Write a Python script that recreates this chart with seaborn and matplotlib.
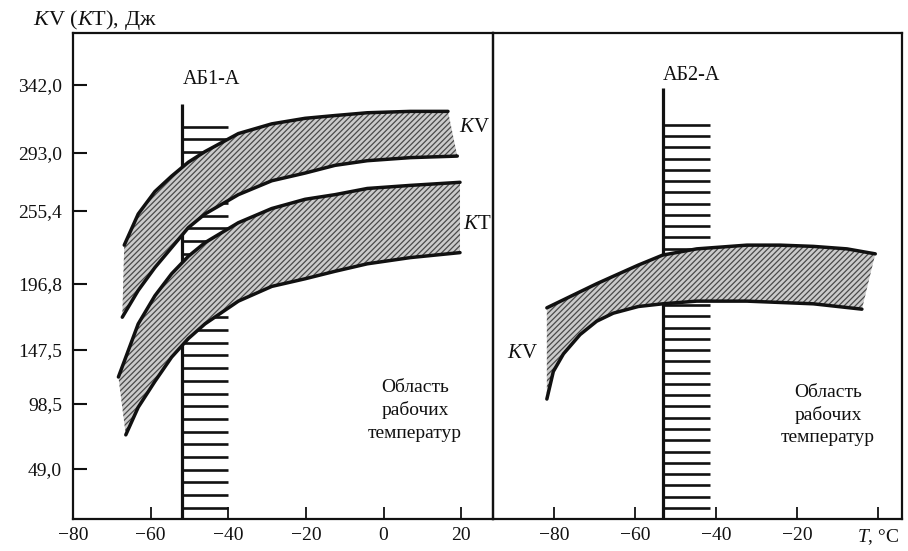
import numpy as np
import pandas as pd
import matplotlib
matplotlib.use("Agg")
import matplotlib.pyplot as plt
import seaborn as sns

# ------------------------- data -------------------------
Y_TICK_VALUES = [49.0, 98.5, 147.5, 196.8, 255.4, 293.0, 342.0]
Y_TICK_LABELS = ["49,0", "98,5", "147,5", "196,8", "255,4", "293,0", "342,0"]
X_TICKS_LEFT = [-80, -60, -40, -20, 0, 20]
X_TICKS_RIGHT = [-80, -60, -40, -20, 0]

# Left panel (АБ1-А): KV band
KV1_UP_T = [-66.8, -63.2, -58.9, -54.6, -50.3, -46.0, -37.4, -28.8, -20.2, -12.5, -4.2, 6.9, 16.6]
KV1_UP_V = [228, 253, 268, 278, 287, 294, 307, 314, 318, 320, 322, 323, 323]
KV1_LO_T = [-67.3, -63.2, -58.9, -54.6, -50.3, -46.0, -37.4, -28.8, -20.2, -12.5, -4.2, 6.9, 19.0]
KV1_LO_V = [172, 192, 210, 226, 242, 253, 266, 275, 280, 285, 288, 290, 291]
# Left panel: KT band
KT1_UP_T = [-68.3, -63.2, -58.9, -54.6, -50.3, -46.0, -37.4, -28.8, -20.2, -12.5, -4.2, 6.9, 19.7]
KT1_UP_V = [123, 167, 188, 205, 219, 230, 246, 257, 263, 266, 270, 272, 274]
KT1_LO_T = [-66.4, -63.2, -58.9, -54.6, -50.3, -46.0, -37.4, -28.8, -20.2, -12.5, -4.2, 6.9, 19.7]
KT1_LO_V = [75, 96, 119, 141, 156, 167, 184, 195, 201, 207, 213, 218, 222]
# Right panel (АБ2-А): KV band
KV2_UP_T = [-81.8, -77.7, -73.6, -69.5, -65.4, -59.2, -53.2, -44.8, -32.4, -24.2, -16.0, -7.7, -0.7]
KV2_UP_V = [179, 185, 191, 197, 203, 212, 220, 225, 228, 228, 227, 225, 221]
KV2_LO_T = [-81.8, -80.2, -77.7, -73.6, -69.5, -65.4, -59.2, -53.2, -44.8, -32.4, -16.0, -4.0]
KV2_LO_V = [103, 128, 144, 159, 169, 175, 180, 182, 184, 184, 182, 178]

# steel lower working-temperature limits
AB1_T, AB1_END = -52.0, -40.0
AB2_T, AB2_END = -53.0, -41.5

# ------------------------- layout -------------------------
# non-linear y axis of the original: value -> height (px) above the x axis
SCALE_VALS = np.array([0, 49.0, 98.5, 147.5, 196.8, 255.4, 293.0, 342.0])
SCALE_POS = np.array([0, 50, 115, 169, 235, 308, 366, 434], float)


def _pw(x, xs, ys):
    x = np.asarray(x, float)
    out = np.interp(x, xs, ys)
    s_lo = (ys[1] - ys[0]) / (xs[1] - xs[0])
    s_hi = (ys[-1] - ys[-2]) / (xs[-1] - xs[-2])
    out = np.where(x < xs[0], ys[0] + (x - xs[0]) * s_lo, out)
    out = np.where(x > xs[-1], ys[-1] + (x - xs[-1]) * s_hi, out)
    return out


def fwd(v):
    return _pw(v, SCALE_VALS, SCALE_POS)


def inv(p):
    return _pw(p, SCALE_POS, SCALE_VALS)


Y_TOP = float(inv(486))

sns.set_theme(style="white")
plt.rcParams["font.family"] = ["Liberation Serif", "DejaVu Serif"]
plt.rcParams["mathtext.fontset"] = "custom"
plt.rcParams["mathtext.rm"] = "Liberation Serif"
plt.rcParams["mathtext.it"] = "Liberation Serif:italic"
plt.rcParams["hatch.linewidth"] = 0.9
plt.rcParams["hatch.color"] = "#4a4a4a"

W, H = 908, 551
fig = plt.figure(figsize=(W / 100, H / 100), dpi=100)
fig.patch.set_facecolor("white")
bot, top = (H - 519) / H, (H - 33) / H
axL = fig.add_axes([73 / W, bot, (493 - 73) / W, top - bot])
axR = fig.add_axes([493 / W, bot, (902 - 493) / W, top - bot])

INK = "#111111"
FS = 14


def minus(v):
    return str(v).replace("-", "\u2212")


def band(ax, ut, uv, lt, lv):
    ut, uv, lt, lv = map(np.asarray, (ut, uv, lt, lv))
    ax.fill(np.r_[ut, lt[::-1]], np.r_[uv, lv[::-1]],
            facecolor="#cbcbcb", edgecolor="#4a4a4a", hatch="//////",
            linewidth=0, zorder=3)
    df = pd.concat([pd.DataFrame({"T": ut, "V": uv, "edge": "upper"}),
                    pd.DataFrame({"T": lt, "V": lv, "edge": "lower"})])
    sns.lineplot(data=df, x="T", y="V", units="edge", estimator=None,
                 sort=False, ax=ax, color=INK, linewidth=2.5, zorder=4,
                 legend=False)


def steel(ax, t0, t1, ytop, yh0, n):
    xt = ax.get_xaxis_transform()
    ax.plot([t0, t0], [0, ytop], color=INK, lw=2.3, transform=xt, zorder=2,
            solid_capstyle="butt")
    ax.hlines(np.linspace(yh0, 0.023, n), t0, t1, color=INK, lw=1.9,
              transform=xt, zorder=1)


for ax in (axL, axR):
    ax.set_yscale("function", functions=(fwd, inv))
    ax.set_ylim(0, Y_TOP)
    for s in ax.spines.values():
        s.set_visible(True)
        s.set_color(INK)
        s.set_linewidth(1.6)
    ax.grid(False)
axL.set_facecolor("white")
axR.set_facecolor("none")

axL.set_xlim(-80, 28.2)
axR.set_xlim(-95.1, 5.9)

band(axL, KV1_UP_T, KV1_UP_V, KV1_LO_T, KV1_LO_V)
band(axL, KT1_UP_T, KT1_UP_V, KT1_LO_T, KT1_LO_V)
band(axR, KV2_UP_T, KV2_UP_V, KV2_LO_T, KV2_LO_V)

steel(axL, AB1_T, AB1_END, 0.854, 0.807, 31)
steel(axR, AB2_T, AB2_END, 0.887, 0.811, 35)

# ticks
axL.set_yticks(Y_TICK_VALUES, Y_TICK_LABELS)
axL.set_xticks(X_TICKS_LEFT, [minus(v) for v in X_TICKS_LEFT])
axR.set_yticks([])
axR.set_xticks(X_TICKS_RIGHT,
               [minus(v) for v in X_TICKS_RIGHT[:-1]] + ["$T$, °C"])
axL.tick_params(axis="y", direction="in", length=10, width=1.5, pad=8,
                labelsize=FS, colors=INK, left=True, right=False)
for ax in (axL, axR):
    ax.tick_params(axis="x", direction="in", length=9, width=1.3, pad=6,
                   labelsize=FS, colors=INK, bottom=True, top=False)
    ax.set_xlabel("")
    ax.set_ylabel("")

# texts
xtL = axL.get_xaxis_transform()
xtR = axR.get_xaxis_transform()
axL.text(-44.2, 0.905, "АБ1-А", transform=xtL, ha="center", va="center",
         fontsize=14.5, color=INK)
axR.text(-46.2, 0.912, "АБ2-А", transform=xtR, ha="center", va="center",
         fontsize=14.5, color=INK)
axL.text(19.4, 0.805, "$K$V", transform=xtL, ha="left", va="center",
         fontsize=15, color=INK, clip_on=False, zorder=6)
axL.text(20.6, 0.605, "$K$T", transform=xtL, ha="left", va="center",
         fontsize=15, color=INK, clip_on=False, zorder=6)
axR.text(-87.7, 0.34, "$K$V", transform=xtR, ha="center", va="center",
         fontsize=15, color=INK)
for ax, xf, yf in ((axL, 0.814, 0.224), (axR, 0.819, 0.214)):
    ax.text(xf, yf, "Область\nрабочих\nтемператур", transform=ax.transAxes,
            ha="center", va="center", multialignment="center",
            fontsize=14, linespacing=1.4, color=INK)

fig.text(33 / W, 1 - 20 / H, "$K$V ($K$T), Дж", ha="left", va="center",
         fontsize=16, color=INK)

fig.savefig("out.png", dpi=100, facecolor="white")
